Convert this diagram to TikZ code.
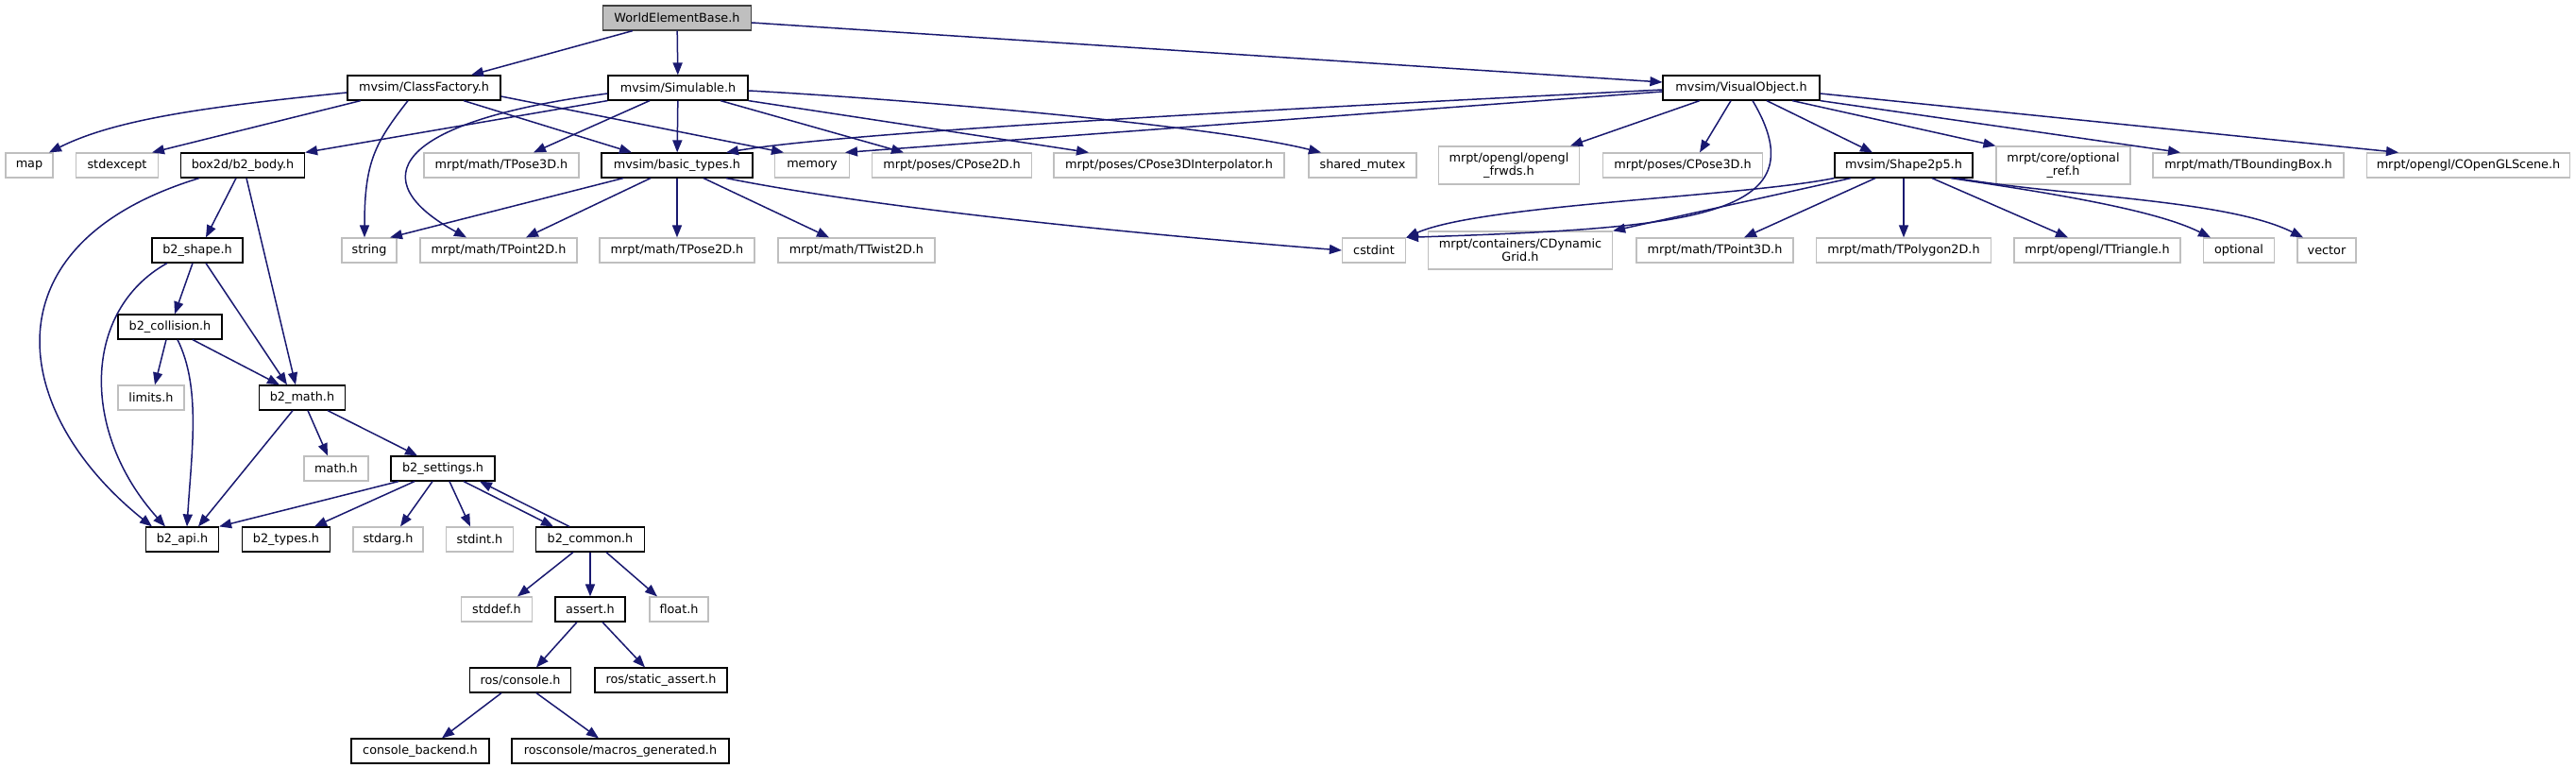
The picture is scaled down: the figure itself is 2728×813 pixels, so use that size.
\documentclass[tikz,border=0pt]{standalone}
\usepackage{fontspec}
\setmainfont{DejaVu Sans}
\usetikzlibrary{arrows.meta}
\definecolor{EdgeBlue}{HTML}{191970}
\definecolor{ExtGray}{HTML}{BFBFBF}
\tikzset{
  file/.style={rectangle, inner sep=0pt, minimum height=26pt, align=center,
               font=\fontsize{12.8}{14}\selectfont, line width=1.2pt},
  docfile/.style={file, draw=black},
  extfile/.style={file, draw=ExtGray},
  rootfile/.style={file, draw=black!75, fill=ExtGray},
  incl/.style={EdgeBlue, line width=1.5pt, -{Triangle[length=13pt,width=10pt]}},
}

\begin{document}
\begin{tikzpicture}[x=1pt,y=-1pt]
  \useasboundingbox (0,0) rectangle (2728,813);

  % top rows
  \node[rootfile, minimum width=157pt] (web) at (717,19) {WorldElementBase.h};
  \node[docfile, minimum width=162pt] (cf) at (449,93) {mvsim/ClassFactory.h};
  \node[docfile, minimum width=148pt] (sim) at (718,93) {mvsim/Simulable.h};
  \node[docfile, minimum width=166pt] (vo) at (1844,93) {mvsim/VisualObject.h};

  \node[extfile, minimum width=50pt] (map) at (31,175) {map};
  \node[extfile, minimum width=87pt] (stdexcept) at (124,175) {stdexcept};
  \node[docfile, minimum width=131pt] (body) at (257,175) {box2d/b2\_body.h};
  \node[extfile, minimum width=164pt] (tpose3d) at (531,175) {mrpt/math/TPose3D.h};
  \node[docfile, minimum width=160pt] (bt) at (717,175) {mvsim/basic\_types.h};
  \node[extfile, minimum width=79pt] (memory) at (860,175) {memory};
  \node[extfile, minimum width=169pt] (cpose2d) at (1008,175) {mrpt/poses/CPose2D.h};
  \node[extfile, minimum width=244pt] (interp) at (1238,175) {mrpt/poses/CPose3DInterpolator.h};
  \node[extfile, minimum width=114pt] (mutex) at (1443,175) {shared\_mutex};
  \node[extfile, minimum width=149pt, minimum height=40pt] (frwds) at (1598,175) {mrpt/opengl/opengl\\\_frwds.h};
  \node[extfile, minimum width=169pt] (cpose3d) at (1782,175) {mrpt/poses/CPose3D.h};
  \node[docfile, minimum width=146pt] (shape) at (2016,175) {mvsim/Shape2p5.h};
  \node[extfile, minimum width=142pt, minimum height=40pt] (optref) at (2185,175) {mrpt/core/optional\\\_ref.h};
  \node[extfile, minimum width=202pt] (bbox) at (2381,175) {mrpt/math/TBoundingBox.h};
  \node[extfile, minimum width=215pt] (scene) at (2614,175) {mrpt/opengl/COpenGLScene.h};

  \node[docfile, minimum width=96pt] (b2shape) at (209,265) {b2\_shape.h};
  \node[extfile, minimum width=58pt] (string) at (391,265) {string};
  \node[extfile, minimum width=166pt] (tpoint2d) at (528,265) {mrpt/math/TPoint2D.h};
  \node[extfile, minimum width=164pt] (tpose2d) at (717,265) {mrpt/math/TPose2D.h};
  \node[extfile, minimum width=166pt] (ttwist) at (907,265) {mrpt/math/TTwist2D.h};
  \node[extfile, minimum width=67pt] (cstdint) at (1455,265) {cstdint};
  \node[extfile, minimum width=195pt, minimum height=40pt] (grid) at (1610,265) {mrpt/containers/CDynamic\\Grid.h};
  \node[extfile, minimum width=166pt] (tpoint3d) at (1816,265) {mrpt/math/TPoint3D.h};
  \node[extfile, minimum width=185pt] (tpoly) at (2016,265) {mrpt/math/TPolygon2D.h};
  \node[extfile, minimum width=176pt] (ttri) at (2221,265) {mrpt/opengl/TTriangle.h};
  \node[extfile, minimum width=75pt] (optional) at (2371,265) {optional};
  \node[extfile, minimum width=62pt] (vector) at (2464,265) {vector};

  % box2d part
  \node[docfile, minimum width=110pt] (coll) at (180,346) {b2\_collision.h};
  \node[extfile, minimum width=70pt] (limits) at (160,421) {limits.h};
  \node[docfile, minimum width=91pt] (b2math) at (320,421) {b2\_math.h};
  \node[extfile, minimum width=68pt] (mathh) at (356,496) {math.h};
  \node[docfile, minimum width=110pt] (settings) at (469,496) {b2\_settings.h};
  \node[docfile, minimum width=77pt] (api) at (193,571) {b2\_api.h};
  \node[docfile, minimum width=93pt] (types) at (303,571) {b2\_types.h};
  \node[extfile, minimum width=74pt] (stdarg) at (411,571) {stdarg.h};
  \node[extfile, minimum width=71pt] (stdint) at (508,571) {stdint.h};
  \node[docfile, minimum width=115pt] (common) at (625,571) {b2\_common.h};
  \node[extfile, minimum width=75pt] (stddef) at (526,645) {stddef.h};
  \node[docfile, minimum width=74pt] (assert) at (625,645) {assert.h};
  \node[extfile, minimum width=62pt] (float) at (719,645) {float.h};
  \node[docfile, minimum width=107pt] (console) at (551,720) {ros/console.h};
  \node[docfile, minimum width=140pt] (sassert) at (700,720) {ros/static\_assert.h};
  \node[docfile, minimum width=146pt] (backend) at (445,795) {console\_backend.h};
  \node[docfile, minimum width=230pt] (macros) at (657,795) {rosconsole/macros\_generated.h};

  % WorldElementBase.h
  \draw[incl] ([xshift=-47pt]web.south) -- ([xshift=50pt]cf.north);
  \draw[incl] (web) -- (sim);
  \draw[incl] ([yshift=-5pt]web.east) -- ([yshift=6pt]vo.west);

  % ClassFactory.h
  \draw[incl] ([yshift=-5pt]cf.west) .. controls +(-150,15) and +(70,-35) .. ([xshift=21pt]map.north);
  \draw[incl] ([xshift=-67pt]cf.south) -- ([xshift=37pt]stdexcept.north);
  \draw[incl] ([xshift=-17pt]cf.south) .. controls +(-35,45) and +(0,-80) .. ([xshift=-5pt]string.north);
  \draw[incl] ([xshift=42pt]cf.south) -- ([xshift=-48pt]bt.north);
  \draw[incl] ([yshift=-9pt]cf.east) -- ([xshift=-30pt]memory.north);

  % Simulable.h
  \draw[incl] (sim.south west) -- (body.north east);
  \draw[incl] ([yshift=-6pt]sim.west) .. controls +(-230,30) and +(-110,-60) .. ([xshift=-34pt]tpoint2d.north);
  \draw[incl] ([xshift=-30pt]sim.south) -- ([xshift=34pt]tpose3d.north);
  \draw[incl] (sim) -- (bt);
  \draw[incl] ([xshift=45pt]sim.south) -- ([xshift=-51pt]cpose2d.north);
  \draw[incl] (sim.south east) -- ([xshift=-85pt]interp.north);
  \draw[incl] ([yshift=-3pt]sim.east) .. controls +(150,8) and +(-120,-30) .. ([xshift=-44pt]mutex.north);

  % basic_types.h
  \draw[incl] ([xshift=-57pt]bt.south) -- ([xshift=22pt]string.north);
  \draw[incl] ([xshift=-28pt]bt.south) -- ([xshift=29pt]tpoint2d.north);
  \draw[incl] (bt) -- (tpose2d);
  \draw[incl] ([xshift=28pt]bt.south) -- ([xshift=-29pt]ttwist.north);
  \draw[incl] ([xshift=52pt]bt.south) .. controls +(150,30) and +(-250,-20) .. (cstdint.west);

  % VisualObject.h
  \draw[incl] ([yshift=-2pt]vo.west) .. controls +(-500,25) and +(120,-20) .. ([xshift=52pt]bt.north);
  \draw[incl] ([yshift=-4pt]vo.west) -- ([xshift=35pt]memory.north);
  \draw[incl] ([xshift=-44pt]vo.south) -- ([xshift=65pt]frwds.north);
  \draw[incl] ([xshift=-11pt]vo.south) -- ([xshift=18pt]cpose3d.north);
  \draw[incl] ([xshift=12pt]vo.south) .. controls +(74,124) and +(300,-10) .. (cstdint.north east);
  \draw[incl] ([xshift=27pt]vo.south) -- ([xshift=-33pt]shape.north);
  \draw[incl] ([xshift=54pt]vo.south) -- (optref.north west);
  \draw[incl] (vo.south east) -- ([xshift=-72pt]bbox.north);
  \draw[incl] ([yshift=-6pt]vo.east) -- ([xshift=-74pt]scene.north);

  % Shape2p5.h
  \draw[incl] (shape.south west) .. controls +(-100,20) and +(80,-35) .. (cstdint.north east);
  \draw[incl] ([xshift=-56pt]shape.south) -- (grid.north east);
  \draw[incl] ([xshift=-30pt]shape.south) -- ([xshift=31pt]tpoint3d.north);
  \draw[incl] (shape) -- (tpoly);
  \draw[incl] ([xshift=30pt]shape.south) -- ([xshift=-31pt]ttri.north);
  \draw[incl] ([xshift=50pt]shape.south) .. controls +(100,15) and +(-60,-30) .. ([xshift=-30pt]optional.north);
  \draw[incl] ([xshift=56pt]shape.south) .. controls +(120,20) and +(-80,-40) .. ([xshift=-25pt]vector.north);

  % box2d
  \draw[incl] ([xshift=-7pt]body.south) -- ([xshift=9pt]b2shape.north);
  \draw[incl] ([xshift=4pt]body.south) -- ([xshift=-7pt]b2math.north);
  \draw[incl] ([xshift=-46pt]body.south) .. controls +(-230,70) and +(-150,-120) .. ([xshift=-32pt]api.north);
  \draw[incl] ([xshift=-5pt]b2shape.south) -- ([xshift=5pt]coll.north);
  \draw[incl] ([xshift=9pt]b2shape.south) -- ([xshift=-16pt]b2math.north);
  \draw[incl] ([xshift=-32pt]b2shape.south) .. controls +(-90,50) and +(-90,-100) .. ([xshift=-18pt]api.north);
  \draw[incl] ([xshift=-4pt]coll.south) -- ([xshift=4pt]limits.north);
  \draw[incl] ([xshift=24pt]coll.south) -- ([xshift=-24pt]b2math.north);
  \draw[incl] ([xshift=8pt]coll.south) .. controls +(25,50) and +(5,-80) .. ([xshift=5pt]api.north);
  \draw[incl] ([xshift=6pt]b2math.south) -- ([xshift=-9pt]mathh.north);
  \draw[incl] ([xshift=27pt]b2math.south) -- ([xshift=-27pt]settings.north);
  \draw[incl] ([xshift=-10pt]b2math.south) -- ([xshift=17pt]api.north);
  \draw[incl] ([xshift=-47pt]settings.south) -- (api.north east);
  \draw[incl] ([xshift=-30pt]settings.south) -- ([xshift=30pt]types.north);
  \draw[incl] ([xshift=-11pt]settings.south) -- ([xshift=13pt]stdarg.north);
  \draw[incl] ([xshift=7pt]settings.south) -- ([xshift=-10pt]stdint.north);
  \draw[incl] ([xshift=22pt]settings.south) -- ([xshift=-39pt]common.north);
  \draw[incl] ([xshift=-22pt]common.north) -- ([xshift=39pt]settings.south);
  \draw[incl] ([xshift=-18pt]common.south) -- ([xshift=22pt]stddef.north);
  \draw[incl] (common) -- (assert);
  \draw[incl] ([xshift=17pt]common.south) -- ([xshift=-23pt]float.north);
  \draw[incl] ([xshift=-14pt]assert.south) -- ([xshift=17pt]console.north);
  \draw[incl] ([xshift=13pt]assert.south) -- ([xshift=-17pt]sassert.north);
  \draw[incl] ([xshift=-20pt]console.south) -- ([xshift=23pt]backend.north);
  \draw[incl] ([xshift=17pt]console.south) -- ([xshift=-23pt]macros.north);
\end{tikzpicture}
\end{document}
